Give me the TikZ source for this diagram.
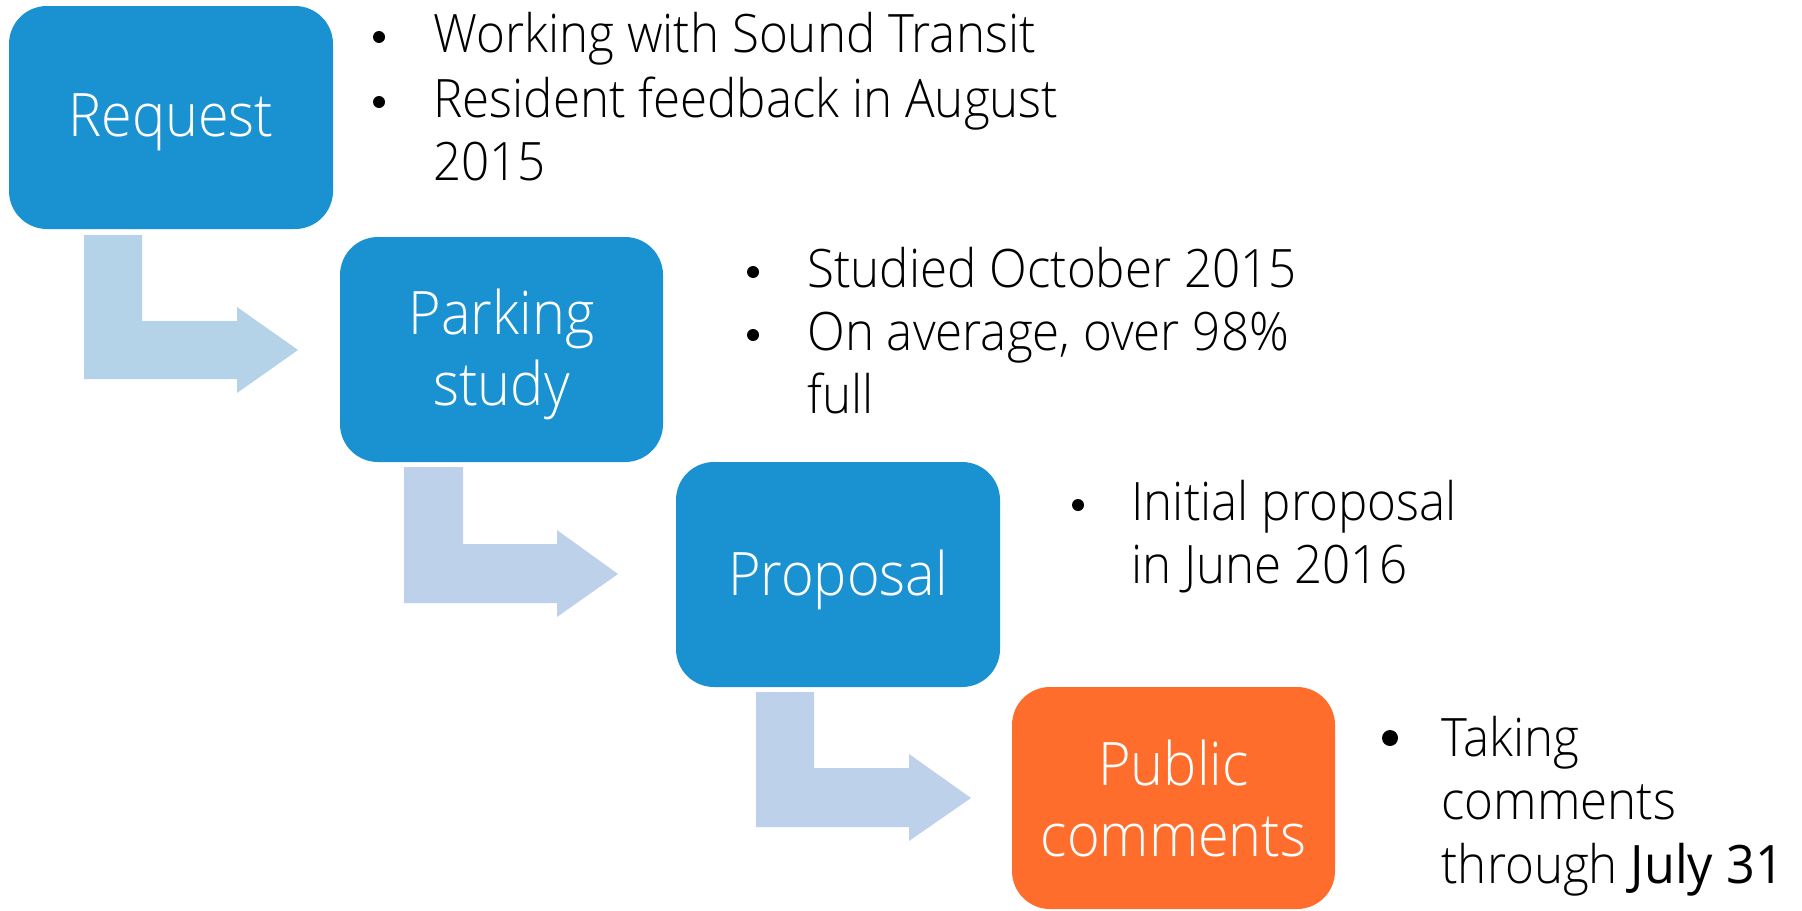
\documentclass[tikz,border=0pt]{standalone}
\usepackage{fontspec}
\setmainfont{Open Sans Light}[FakeStretch=0.93]
\newfontfamily\regfont{Open Sans}[FakeStretch=0.95]
\definecolor{boxblue}{HTML}{1A91D1}
\definecolor{boxorange}{HTML}{FF6D2D}
\definecolor{arrowA}{HTML}{B4D2E8}
\definecolor{arrowB}{HTML}{BDD1EA}
\newcommand{\blines}[1]{\parbox[t]{400pt}{\raggedright\fontsize{26.5pt}{31.75pt}\selectfont #1}}
\tikzset{
  stepbox/.style={rounded corners=19pt, fill=boxblue, inner sep=0pt},
  boxtext/.style={text=white, align=center, font=\fontsize{30pt}{35.5pt}\selectfont,
    inner sep=0pt, yshift=-2.5pt},
  bentarrow/.style={fill=#1, draw=none},
  bullettext/.style={anchor=base west, inner sep=0pt, text=black},
  bulletdot/.style={circle, fill=black, inner sep=0pt, minimum size=#1},
}
\begin{document}
\begin{tikzpicture}[x=0.5pt,y=-0.5pt]
\useasboundingbox (0,0) rectangle (1802,910);
% bent arrows
\fill[bentarrow=arrowA] (84,235) -- (142,235) -- (142,321) -- (237,321) -- (237,307) -- (298,350) -- (237,393) -- (237,379) -- (84,379) -- cycle;
\fill[bentarrow=arrowB] (404,467) -- (463,467) -- (463,544) -- (557,544) -- (557,530) -- (618,574) -- (557,617) -- (557,603) -- (404,603) -- cycle;
\fill[bentarrow=arrowB] (756,692) -- (814,692) -- (814,768) -- (909,768) -- (909,754) -- (971,798) -- (909,841) -- (909,827) -- (756,827) -- cycle;
% boxes
\node[stepbox, minimum width=162pt, minimum height=111.5pt] (req) at (171,117.5) {};
\node[stepbox, minimum width=161.5pt, minimum height=112.5pt] (park) at (501.5,349.5) {};
\node[stepbox, minimum width=162pt, minimum height=112.5pt] (prop) at (838,574.5) {};
\node[stepbox, fill=boxorange, minimum width=161.5pt, minimum height=111pt] (pub) at (1173.5,798) {};
\node[boxtext] (reqt) at (req.center) {Request};
\node[boxtext] (parkt) at (park.center) {Parking\\study};
\node[boxtext] (propt) at (prop.center) {Proposal};
\node[boxtext, yshift=2.5pt] (pubt) at (pub.center) {Public\\comments};
% bullets group 1
\node[bulletdot=6pt] (b1a) at (379,37) {};
\node[bullettext] (t1a) at (433,52) {\blines{Working with Sound Transit}};
\node[bulletdot=6pt] (b1b) at (379,102) {};
\node[bullettext] (t1b) at (433,117) {\blines{Resident feedback in August\\2015}};
% group 2
\node[bulletdot=6pt] (b2a) at (753,272) {};
\node[bullettext] (t2a) at (807,287) {\blines{Studied October 2015}};
\node[bulletdot=6pt] (b2b) at (753,335) {};
\node[bullettext] (t2b) at (807,350) {\blines{On average, over 98\%\\full}};
% group 3
\node[bulletdot=6pt] (b3a) at (1078,505) {};
\node[bullettext] (t3a) at (1131,520) {\blines{Initial proposal\\in June 2016}};
% group 4
\node[bulletdot=8pt] (b4a) at (1390,738) {};
\node[bullettext] (t4a) at (1441,756) {\blines{Taking\\comments\\through {\regfont July 31}}};
\end{tikzpicture}
\end{document}
